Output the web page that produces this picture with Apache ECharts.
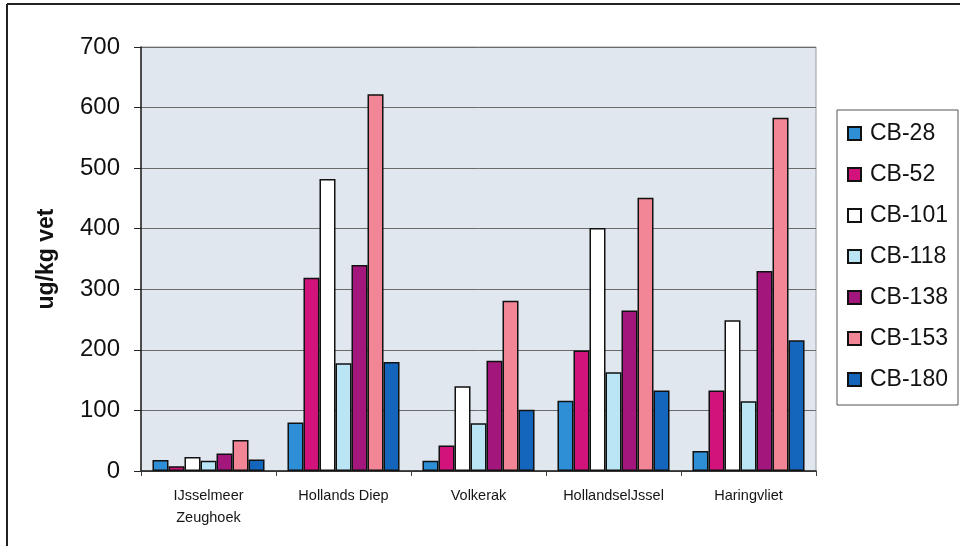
<!DOCTYPE html>
<html>
<head>
<meta charset="utf-8">
<script src="https://cdn.jsdelivr.net/npm/echarts@6/dist/echarts.min.js"></script>
<style>
  html, body { margin: 0; padding: 0; background: #fff; }
  #chart { width: 960px; height: 546px; }
</style>
</head>
<body>
<div id="chart"></div>
<script>
// Sampling locations (x axis)
const locations = ['IJsselmeer\nZeughoek', 'Hollands Diep', 'Volkerak', 'HollandselJssel', 'Haringvliet'];

// PCB congeners, concentration in ug/kg fat per location
const cb28  = [18, 80, 17, 116, 33];
const cb52  = [8, 319, 42, 199, 133];
const cb101 = [23, 482, 140, 401, 249];
const cb118 = [17, 178, 79, 163, 115];
const cb138 = [29, 340, 182, 265, 330];
const cb153 = [51, 622, 281, 451, 583];
const cb180 = [19, 180, 101, 133, 216];

const yTicks = [0, 100, 200, 300, 400, 500, 600, 700];

const seriesDefs = [
  { name: 'CB-28',  data: cb28,  color: '#2f8fd6' },
  { name: 'CB-52',  data: cb52,  color: '#d2137b' },
  { name: 'CB-101', data: cb101, color: '#ffffff' },
  { name: 'CB-118', data: cb118, color: '#b9e5f5' },
  { name: 'CB-138', data: cb138, color: '#a3167c' },
  { name: 'CB-153', data: cb153, color: '#f28596' },
  { name: 'CB-180', data: cb180, color: '#1466bd' }
];

const font = '"Liberation Sans", Arial, sans-serif';

const chart = echarts.init(document.getElementById('chart'), null, { renderer: 'canvas' });

chart.setOption({
  animation: false,
  backgroundColor: '#ffffff',
  textStyle: { fontFamily: font },
  graphic: [
    // outer frame (top and left edges)
    { type: 'line', shape: { x1: 7, y1: 4, x2: 960, y2: 4 }, style: { stroke: '#222', lineWidth: 2 } },
    { type: 'line', shape: { x1: 7, y1: 4, x2: 7, y2: 546 }, style: { stroke: '#222', lineWidth: 2 } }
  ],
  grid: {
    left: 141, right: 144, top: 47, bottom: 75,
    show: true,
    backgroundColor: '#e1e7ef',
    borderColor: '#9a9a9a',
    borderWidth: 1
  },
  legend: {
    orient: 'vertical',
    left: 837,
    top: 110,
    padding: [12, 10, 14, 10],
    itemGap: 18,
    itemWidth: 13,
    itemHeight: 13,
    icon: 'rect',
    borderColor: '#555',
    borderWidth: 1,
    textStyle: { fontFamily: font, fontSize: 23, color: '#111', padding: [0, 0, 0, 4] },
    data: seriesDefs.map(s => s.name)
  },
  xAxis: {
    type: 'category',
    data: locations,
    axisLine: { lineStyle: { color: '#222', width: 1.5 } },
    axisTick: { show: true, length: 5, lineStyle: { color: '#444' } },
    axisLabel: {
      fontFamily: font, fontSize: 14.5, color: '#151515', margin: 14, lineHeight: 22
    }
  },
  yAxis: {
    type: 'value',
    min: 0, max: 700, interval: 100,
    name: 'ug/kg vet',
    nameLocation: 'middle',
    nameGap: 83,
    nameTextStyle: { fontFamily: font, fontSize: 23, fontWeight: 'bold', color: '#111' },
    axisLine: { show: true, lineStyle: { color: '#222', width: 1.5 } },
    axisTick: { show: true, length: 7, lineStyle: { color: '#222' } },
    axisLabel: {
      fontFamily: font, fontSize: 24, color: '#111', margin: 21,
      formatter: v => (yTicks.indexOf(v) >= 0 ? String(v) : '')
    },
    splitLine: { lineStyle: { color: '#6b6b6b', width: 1 } }
  },
  series: seriesDefs.map(s => ({
    name: s.name,
    type: 'bar',
    data: s.data,
    barGap: '0%',
    barCategoryGap: '17%',
    itemStyle: { color: s.color, borderColor: '#111', borderWidth: 1.5 }
  }))
});
</script>
</body>
</html>
